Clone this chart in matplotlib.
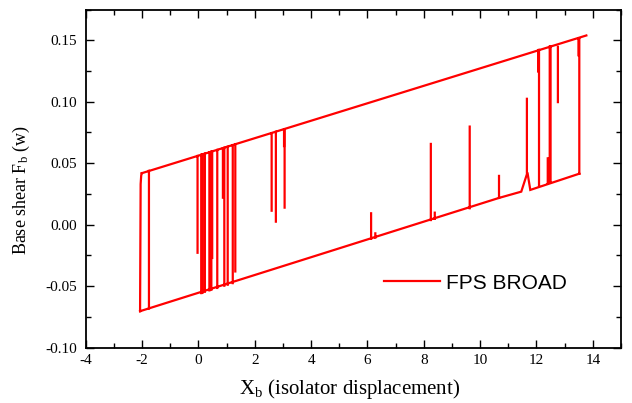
import numpy as np
import matplotlib
matplotlib.use("Agg")
import matplotlib.pyplot as plt
from matplotlib.ticker import MultipleLocator

plt.rcParams['font.family'] = ['Liberation Serif', 'DejaVu Serif']
plt.rcParams['mathtext.fontset'] = 'custom'
plt.rcParams['mathtext.rm'] = 'Liberation Serif'
plt.rcParams['mathtext.it'] = 'Liberation Serif:italic'
plt.rcParams['axes.unicode_minus'] = False

# ---- data ----
# upper sliding branch
upper_x = [-2.01, 13.77]
upper_y = [0.0419, 0.1539]
# lower sliding branch (with small bump near x = 11.7)
lower_x = [-2.07, 10.67, 11.46, 11.68, 11.78, 13.52]
lower_y = [-0.0703, 0.0218, 0.0269, 0.0425, 0.0283, 0.0415]
# left reversal edge
edge_x = [-2.07, -2.05, -2.03, -2.01]
edge_y = [-0.0703, 0.0330, 0.0400, 0.0419]
# stick (vertical) segments: x, start force, end force
stick_x = [-1.755, -0.03, 0.10, 0.15, 0.23, 0.39, 0.46, 0.49, 0.67, 0.87, 0.92,
           1.04, 1.22, 1.31, 2.60, 2.75, 3.04, 3.06,
           6.13, 6.28, 8.25, 8.39, 9.63, 10.67, 11.66,
           12.06, 12.09, 12.40, 12.47, 12.50, 12.76, 13.49, 13.52]
stick_y0 = [-0.0680, -0.0228, -0.0556, -0.0552, -0.0545, -0.0534, -0.0529, -0.0270, -0.0514, 0.0220, -0.0496,
            -0.0488, -0.0475, -0.0380, 0.0114, 0.0025, 0.0640, 0.0139,
            -0.0115, -0.0105, 0.0038, 0.0048, 0.0134, 0.0218, 0.0425,
            0.1246, 0.0318, 0.0339, 0.0344, 0.0346, 0.0997, 0.1378, 0.0415]
stick_y1 = [0.0438, 0.0559, 0.0569, 0.0572, 0.0578, 0.0589, 0.0594, 0.0596, 0.0608, 0.0621, 0.0625,
            0.0633, 0.0646, 0.0652, 0.0744, 0.0755, 0.0776, 0.0777,
            0.0093, -0.0070, 0.0657, 0.0098, 0.0798, 0.0397, 0.1024,
            0.1420, 0.1422, 0.0540, 0.1449, 0.1451, 0.1446, 0.1512, 0.1514]
legend_label = "FPS BROAD"

# assemble NaN-separated polyline
xs, ys = [], []
def add(px, py):
    xs.extend(list(px) + [np.nan])
    ys.extend(list(py) + [np.nan])
add(upper_x, upper_y)
add(lower_x, lower_y)
add(edge_x, edge_y)
for sx, a, b in zip(stick_x, stick_y0, stick_y1):
    add([sx, sx], [a, b])

fig = plt.figure(figsize=(6.32, 4.03), dpi=100)
ax = fig.add_axes([0.1356, 0.1372, 0.847, 0.8392])
ax.plot(xs, ys, color='#ff0000', lw=1.6, label=legend_label, solid_joinstyle='miter')

ax.set_xlim(-4, 15)
ax.set_ylim(-0.10, 0.175)
ax.xaxis.set_major_locator(MultipleLocator(2))
ax.xaxis.set_minor_locator(MultipleLocator(1))
ax.yaxis.set_major_locator(MultipleLocator(0.05))
ax.yaxis.set_minor_locator(MultipleLocator(0.025))
ax.set_xticks(np.arange(-4, 15, 2))
ax.yaxis.set_major_formatter(plt.FuncFormatter(lambda v, p: f"{v:.2f}"))

ax.tick_params(which='both', direction='in', top=True, right=True, width=1.0)
ax.tick_params(which='major', length=5.5, labelsize=11)
ax.tick_params(which='minor', length=3.5)
ax.tick_params(axis='x', which='major', pad=4.5)
ax.tick_params(axis='y', which='major', pad=6.5)
for s in ax.spines.values():
    s.set_linewidth(1.3)

ax.set_xlabel(r"X$_\mathrm{b}$ (isolator displacement)", fontsize=15)
ax.set_ylabel(r"Base shear F$_\mathrm{b}$ (w)", fontsize=13)
ax.xaxis.set_label_coords(0.493, -0.087)
ax.yaxis.set_label_coords(-0.100, 0.466)

leg = ax.legend(loc='center left', bbox_to_anchor=(0.557, 0.191), frameon=False,
                handlelength=2.7, handletextpad=0.3, borderpad=0, borderaxespad=0,
                prop={'family': ['Liberation Sans', 'DejaVu Sans'], 'size': 15})

fig.savefig("out.png", dpi=100)
